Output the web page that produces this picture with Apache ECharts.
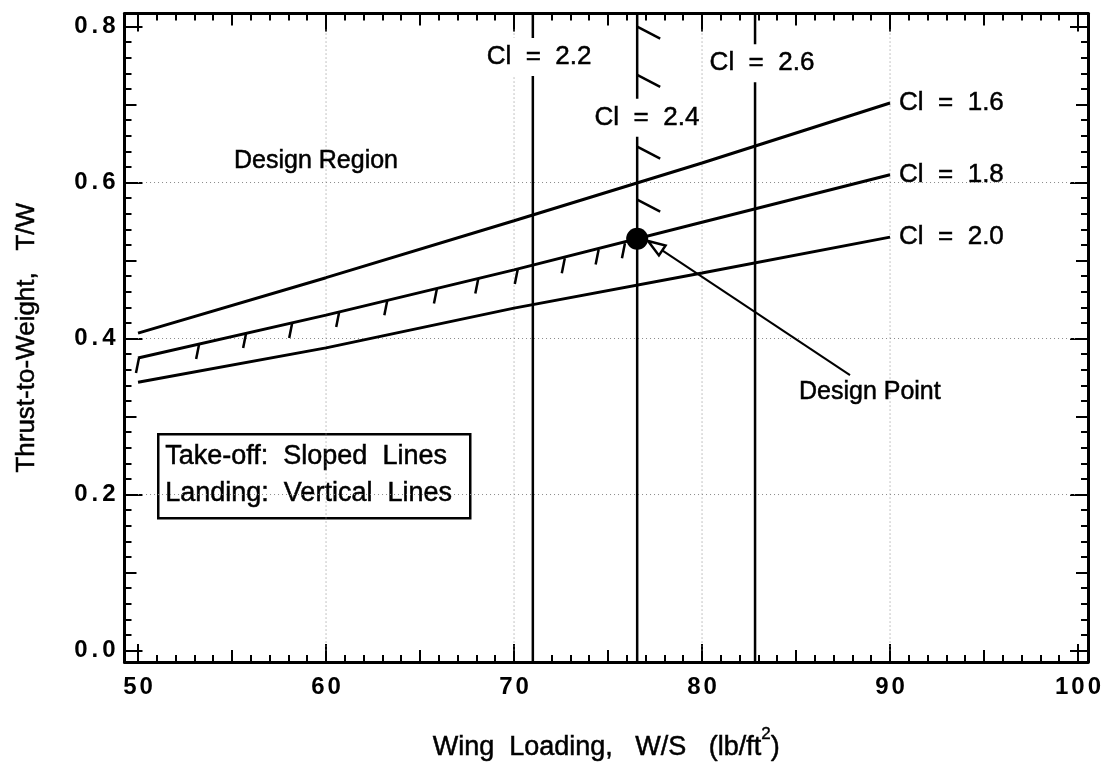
<!DOCTYPE html>
<html><head><meta charset="utf-8">
<script src="https://cdn.jsdelivr.net/npm/echarts@6/dist/echarts.min.js"></script>
<style>html,body{margin:0;padding:0;background:#fff}#c{width:1111px;height:764px}</style>
</head><body><div id="c"></div>
<script>
// ---------- data ----------
const wingLoading = [50, 60, 70, 80, 90];
const twCl16 = [0.407, 0.478, 0.551, 0.625, 0.702];
const twCl18 = [0.375, 0.430, 0.488, 0.549, 0.610];
const twCl20 = [0.344, 0.388, 0.439, 0.484, 0.530];
const takeoffNames = ['Cl  =  1.6', 'Cl  =  1.8', 'Cl  =  2.0'];
const landingNames = ['Cl  =  2.2', 'Cl  =  2.4', 'Cl  =  2.6'];
const landingWS = [71.0, 76.55, 82.82];
const designPoint = [76.55, 0.528];
const arrowTail = [87.87, 0.353];
const arrowTip = [77.13, 0.525];
const takeoffHatchX = [50.05, 53.25, 55.75, 58.2, 60.7, 63.26, 65.9, 68.1, 70.2, 72.7, 74.5, 75.9];
const takeoffHatchY = [0.375, 0.393, 0.407, 0.420, 0.434, 0.449, 0.464, 0.477, 0.489, 0.503, 0.514, 0.522];
const landingHatchY = [0.800, 0.738, 0.646, 0.578];
const xTickLabels = [50, 60, 70, 80, 90, 100];
const yTickLabels = [0.0, 0.2, 0.4, 0.6, 0.8];
const gridX = [60, 70, 80, 90];
const gridY = [0.2, 0.4, 0.6];
const annoTexts = ['Cl  =  2.2', 'Cl  =  2.4', 'Cl  =  2.6', 'Design Region', 'Design Point'];
const annoX = [71.33, 77.07, 83.19, 55.0, 85.05];
const annoY = [0.761, 0.683, 0.753, 0.628, 0.331];
const legendLines = ['Take-off:  Sloped  Lines', 'Landing:  Vertical  Lines'];
const xTitle = 'Wing  Loading,   W/S   (lb/ft{sup|2})';
const yTitle = 'Thrust-to-Weight,   T/W';

// ---------- layout / style ----------
const X_MIN = 49.28, X_MAX = 100.53, Y_MIN = -0.0147, Y_MAX = 0.8167;
const FONT = 'Liberation Sans, Arial, Helvetica, sans-serif';
const annoAlign = ['center', 'center', 'center', 'left', 'left'];
const annoBg = [true, true, true, false, false];
const annoSize = [26, 26, 26, 25, 25];
const TXT = { fill: '#000', stroke: '#000', lineWidth: 0.5 };
const tickGlyph = pad => ({ fontFamily: FONT, fontWeight: 'bold', fontSize: 24, color: '#000', padding: [0, pad] });
const spaced = s => s.split('').map(c => '{d|' + c + '}').join('');

const xMid = [], xMinor = [];
for (let v = 51; v < 100; v++) { if (v % 10 === 5) xMid.push(v); else if (v % 5 !== 0) xMinor.push(v); }
const yMid = [], yMinor = [];
for (let i = 1; i < 40; i++) { const v = Math.round(i * 2) / 100; if (i % 10 === 5) yMid.push(v); else if (i % 5 !== 0) yMinor.push(v); }

const gridBox = { left: 124.5, right: 23, top: 13.5, bottom: 102, show: false, outerBoundsMode: 'none', containLabel: false };

function xAx(grid, pos, ticks, len, withLine, withLabel) {
  const a = {
    type: 'value', gridIndex: grid, position: pos, min: X_MIN, max: X_MAX,
    axisLine: { show: withLine, onZero: false, lineStyle: { color: '#000', width: 3 } },
    axisTick: { show: true, inside: true, length: len, customValues: ticks, lineStyle: { color: '#000', width: 2 } },
    axisLabel: { show: false }, splitLine: { show: false }
  };
  if (withLabel) {
    a.axisLabel = { show: true, customValues: xTickLabels, margin: 13, color: '#000', fontFamily: FONT, fontWeight: 'bold', fontSize: 24,
      formatter: v => spaced(String(Math.round(v))), rich: { d: tickGlyph(1.5) } };
    a.name = xTitle;
    a.nameLocation = 'middle';
    a.nameGap = 64;
    a.nameTextStyle = { color: '#000', fontFamily: FONT, fontSize: 27, textBorderColor: '#000', textBorderWidth: 0.5,
      rich: { sup: { fontSize: 17, fontFamily: FONT, color: '#000', textBorderColor: '#000', textBorderWidth: 0.4, padding: [0, 0, 26, 0] } } };
  }
  return a;
}
function yAx(grid, pos, ticks, len, withLine, withLabel) {
  const a = {
    type: 'value', gridIndex: grid, position: pos, min: Y_MIN, max: Y_MAX,
    axisLine: { show: withLine, onZero: false, lineStyle: { color: '#000', width: 3 } },
    axisTick: { show: true, inside: true, length: len, customValues: ticks, lineStyle: { color: '#000', width: 2 } },
    axisLabel: { show: false }, splitLine: { show: false }
  };
  if (withLabel) {
    a.axisLabel = { show: true, customValues: yTickLabels, margin: 7, color: '#000', fontFamily: FONT, fontWeight: 'bold', fontSize: 24,
      formatter: v => spaced(v.toFixed(1)), rich: { d: tickGlyph(2) } };
    a.name = yTitle;
    a.nameLocation = 'middle';
    a.nameGap = 85;
    a.nameTextStyle = { color: '#000', fontFamily: FONT, fontSize: 26, textBorderColor: '#000', textBorderWidth: 0.5 };
  }
  return a;
}

const series = [];
gridX.forEach(x => series.push({ type: 'line', xAxisIndex: 0, yAxisIndex: 0, symbol: 'none', silent: true, z: 1,
  data: [[x, yTickLabels[0]], [x, yTickLabels[yTickLabels.length - 1]]],
  lineStyle: { color: '#888', width: 1, type: [1, 3] } }));
gridY.forEach(y => series.push({ type: 'line', xAxisIndex: 0, yAxisIndex: 0, symbol: 'none', silent: true, z: 1,
  data: [[xTickLabels[0], y], [xTickLabels[xTickLabels.length - 1], y]],
  lineStyle: { color: '#888', width: 1, type: [1, 3] } }));
[twCl16, twCl18, twCl20].forEach((arr, k) => series.push({
  type: 'line', name: takeoffNames[k], xAxisIndex: 0, yAxisIndex: 0, symbol: 'none', z: 3,
  data: wingLoading.map((x, i) => [x, arr[i]]),
  lineStyle: { color: '#000', width: 3 },
  endLabel: { show: true, formatter: takeoffNames[k], distance: 9, color: '#000', fontFamily: FONT, fontSize: 26,
    textBorderColor: '#000', textBorderWidth: 0.5 }
}));
landingWS.forEach((x, k) => series.push({
  type: 'line', name: landingNames[k], xAxisIndex: 0, yAxisIndex: 0, symbol: 'none', z: 3,
  data: [[x, Y_MIN], [x, Y_MAX]], lineStyle: { color: '#000', width: 2.5 }
}));
series.push({ type: 'custom', xAxisIndex: 0, yAxisIndex: 0, z: 3,
  data: takeoffHatchX.map((x, i) => [x, takeoffHatchY[i]]),
  renderItem: (p, api) => { const c = api.coord([api.value(0), api.value(1)]);
    return { type: 'line', shape: { x1: c[0], y1: c[1], x2: c[0] - 3, y2: c[1] + 15 }, style: { stroke: '#000', lineWidth: 2.5 } }; } });
series.push({ type: 'custom', xAxisIndex: 0, yAxisIndex: 0, z: 3,
  data: landingHatchY.map(y => [landingWS[1], y]),
  renderItem: (p, api) => { const c = api.coord([api.value(0), api.value(1)]);
    return { type: 'line', shape: { x1: c[0], y1: c[1], x2: c[0] + 23, y2: c[1] + 12 }, style: { stroke: '#000', lineWidth: 2.5 } }; } });
series.push({ type: 'scatter', xAxisIndex: 0, yAxisIndex: 0, z: 5, symbolSize: 22,
  itemStyle: { color: '#000', opacity: 1 }, data: [designPoint] });
series.push({ type: 'custom', xAxisIndex: 0, yAxisIndex: 0, z: 6,
  data: [[arrowTail[0], arrowTail[1], arrowTip[0], arrowTip[1]]],
  renderItem: (p, api) => {
    const a = api.coord([api.value(0), api.value(1)]), b = api.coord([api.value(2), api.value(3)]);
    const ang = Math.atan2(b[1] - a[1], b[0] - a[0]);
    const L = 17, W = 6;
    const bx = b[0] - L * Math.cos(ang), by = b[1] - L * Math.sin(ang);
    const nx = -Math.sin(ang) * W, ny = Math.cos(ang) * W;
    return { type: 'group', children: [
      { type: 'line', shape: { x1: a[0], y1: a[1], x2: bx, y2: by }, style: { stroke: '#000', lineWidth: 2 } },
      { type: 'polygon', shape: { points: [[b[0], b[1]], [bx + nx, by + ny], [bx - nx, by - ny]] },
        style: { fill: '#fff', stroke: '#000', lineWidth: 2.5 } }
    ] };
  } });
series.push({ type: 'custom', xAxisIndex: 0, yAxisIndex: 0, z: 8,
  data: annoX.map((x, i) => [x, annoY[i]]),
  renderItem: (p, api) => { const i = p.dataIndex; const c = api.coord([api.value(0), api.value(1)]);
    return { type: 'text', x: c[0], y: c[1], style: Object.assign({ text: annoTexts[i], font: annoSize[i] + 'px ' + FONT,
      align: annoAlign[i], verticalAlign: 'middle', backgroundColor: annoBg[i] ? '#fff' : null, padding: [6, 2] }, TXT) }; } });

const option = {
  backgroundColor: '#fff',
  animation: false,
  grid: [Object.assign({}, gridBox), Object.assign({}, gridBox), Object.assign({}, gridBox)],
  xAxis: [
    xAx(0, 'bottom', xTickLabels, 18, true, true), xAx(0, 'top', xTickLabels, 18, true, false),
    xAx(1, 'bottom', xMid, 12, false, false), xAx(1, 'top', xMid, 12, false, false),
    xAx(2, 'bottom', xMinor, 7, false, false), xAx(2, 'top', xMinor, 7, false, false)
  ],
  yAxis: [
    yAx(0, 'left', yTickLabels, 18, true, true), yAx(0, 'right', yTickLabels, 18, true, false),
    yAx(1, 'left', yMid, 12, false, false), yAx(1, 'right', yMid, 12, false, false),
    yAx(2, 'left', yMinor, 7, false, false), yAx(2, 'right', yMinor, 7, false, false)
  ],
  series: series,
  graphic: [{
    type: 'group', left: 157, top: 433, children: [
      { type: 'rect', shape: { x: 0, y: 0, width: 312, height: 84 }, style: { fill: '#fff', stroke: '#000', lineWidth: 2.5 } },
      { type: 'text', x: 7, y: 22, style: Object.assign({ text: legendLines[0], font: '27px ' + FONT, verticalAlign: 'middle' }, TXT) },
      { type: 'text', x: 7, y: 59, style: Object.assign({ text: legendLines[1], font: '27px ' + FONT, verticalAlign: 'middle' }, TXT) }
    ]
  }]
};
const chart = echarts.init(document.getElementById('c'), null, { renderer: 'canvas' });
chart.setOption(option);
</script></body></html>
